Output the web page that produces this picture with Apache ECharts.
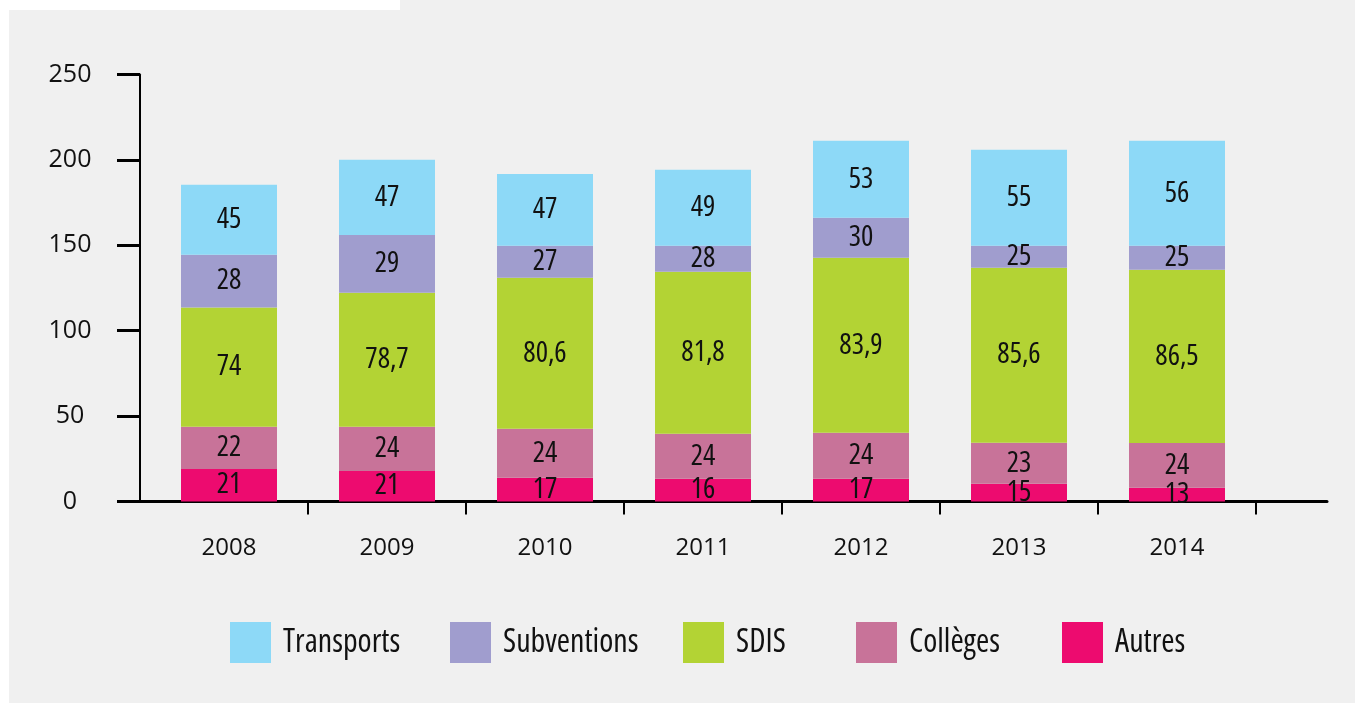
<!DOCTYPE html>
<html lang="fr">
<head>
<meta charset="UTF-8">
<title>Dépenses 2008-2014</title>
<script src="https://cdn.jsdelivr.net/npm/echarts@6/dist/echarts.min.js"></script>
<style>
  html, body { margin: 0; padding: 0; background: #fff; }
  #chart { width: 1355px; height: 703px; }
</style>
</head>
<body>
<div id="chart"></div>
<script>
// categories
var years = ['2008', '2009', '2010', '2011', '2012', '2013', '2014'];
var yTicks = [0, 50, 100, 150, 200, 250];

// values printed in the bars
var transports = [45, 47, 47, 49, 53, 55, 56];
var subventions = [28, 29, 27, 28, 30, 25, 25];
var sdis = [74, 78.7, 80.6, 81.8, 83.9, 85.6, 86.5];
var colleges = [22, 24, 24, 24, 24, 23, 24];
var autres = [21, 21, 17, 16, 17, 15, 13];

// segment heights as drawn in the source (they don't follow the printed numbers)
var transportsH = [41.0, 44.0, 42.0, 44.5, 45.1, 56.2, 61.5];
var subventionsH = [30.8, 33.9, 18.7, 15.2, 23.4, 12.8, 14.0];
var sdisH = [69.9, 78.5, 88.4, 94.9, 102.5, 102.5, 101.5];
var collegesH = [24.6, 25.8, 28.7, 26.3, 26.9, 24.0, 26.2];
var autresH = [19.1, 17.9, 13.9, 13.3, 13.3, 10.4, 8.0];

// narrow text uses the condensed width of the same family (fontStyle goes into the font shorthand)
var family = '"Open Sans", "Noto Sans", sans-serif';

function frNum(v) {
    return String(v).replace('.', ',');
}

function makeSeries(name, heights, printed, color) {
    return {
        name: name,
        type: 'bar',
        stack: 'total',
        xAxisIndex: 0,
        yAxisIndex: 0,
        barWidth: 96,
        data: heights,
        itemStyle: { color: color },
        label: {
            show: true,
            position: 'inside',
            color: '#111',
            fontStyle: 'condensed',
            fontFamily: family,
            fontSize: 29,
            formatter: function (p) { return frNum(printed[p.dataIndex]); }
        }
    };
}

// bottom to top
var series = [
    makeSeries('Autres', autresH, autres, '#ed0b6f'),
    makeSeries('Collèges', collegesH, colleges, '#c87399'),
    makeSeries('SDIS', sdisH, sdis, '#b3d334'),
    makeSeries('Subventions', subventionsH, subventions, '#a09dce'),
    makeSeries('Transports', transportsH, transports, '#8dd9f7')
];

// one legend per item so each can sit where it is in the picture
var legendOrder = ['Transports', 'Subventions', 'SDIS', 'Collèges', 'Autres'];
var legendLeft = [225, 445, 678, 851, 1057];
var legends = legendOrder.map(function (name, i) {
    return {
        data: [name],
        left: legendLeft[i],
        top: 617,
        itemWidth: 41,
        itemHeight: 41,
        icon: 'rect',
        selectedMode: false,
        textStyle: {
            fontStyle: 'condensed',
            fontFamily: family,
            fontSize: 32,
            color: '#111',
            padding: [0, 0, 2, 7]
        }
    };
});

var chart = echarts.init(document.getElementById('chart'));
var option = {
    backgroundColor: '#f0f0f0',
    animation: false,
    graphic: [
        { type: 'rect', shape: { x: 0, y: 0, width: 400, height: 10 }, style: { fill: '#fff' }, silent: true },
        { type: 'rect', shape: { x: 0, y: 0, width: 9, height: 703 }, style: { fill: '#fff' }, silent: true }
    ],
    legend: legends,
    grid: [
        // bars
        { left: 150, right: 99, top: 74.5, bottom: 201.5 },
        // axis lines
        { left: 140, right: 28, top: 74.5, bottom: 201.5 }
    ],
    xAxis: [{
        gridIndex: 0,
        type: 'category',
        data: years,
        axisLine: { show: false },
        axisTick: {
            show: true,
            length: 13,
            interval: function (i) { return i > 0; },
            lineStyle: { color: '#000', width: 2 }
        },
        axisLabel: {
            margin: 35,
            color: '#111',
            fontFamily: family,
            fontSize: 24
        }
    }, {
        gridIndex: 1,
        type: 'value',
        min: 0,
        max: 1,
        axisLine: { show: true, lineStyle: { color: '#000', width: 3 } },
        axisTick: { show: false },
        axisLabel: { show: false },
        splitLine: { show: false }
    }],
    yAxis: [{
        gridIndex: 0,
        type: 'value',
        min: 0,
        max: 250,
        interval: 50,
        show: false
    }, {
        gridIndex: 1,
        type: 'value',
        min: yTicks[0],
        max: yTicks[yTicks.length - 1],
        interval: 50,
        axisLine: { show: true, lineStyle: { color: '#000', width: 2 } },
        axisTick: { show: true, length: 23, lineStyle: { color: '#000', width: 3 } },
        axisLabel: {
            margin: 70,
            align: 'center',
            color: '#111',
            fontFamily: family,
            fontSize: 25
        },
        splitLine: { show: false }
    }],
    series: series
};
chart.setOption(option);
</script>
</body>
</html>
